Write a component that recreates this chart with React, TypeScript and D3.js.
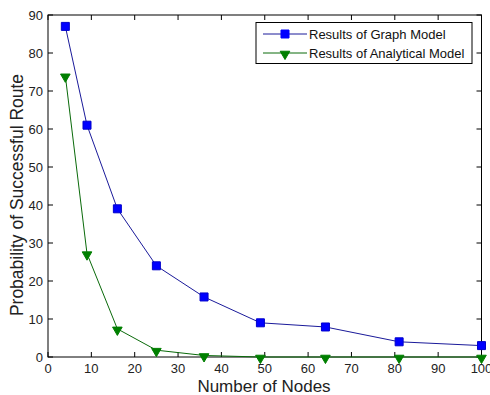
import { useEffect, useRef } from "react";
import * as d3 from "d3";

const nodes = [4, 9, 16, 25, 36, 49, 64, 81, 100];
const graphModel = [87, 61, 39, 24, 15.8, 9, 7.9, 4, 3];
const analyticalModel = [74, 27.2, 7.4, 1.8, 0.4, 0, 0, 0, 0];
const xTicks = [0, 10, 20, 30, 40, 50, 60, 70, 80, 90, 100];
const yTicks = [0, 10, 20, 30, 40, 50, 60, 70, 80, 90];
const seriesNames = ["Results of Graph Model", "Results of Analytical Model"];

function App() {
  const ref = useRef<SVGSVGElement>(null);

  useEffect(() => {
    const svg = d3.select(ref.current);
    svg.selectAll("*").remove();

    const margin = { top: 15, right: 8, bottom: 38, left: 48 };
    const width = 490;
    const height = 395;

    const x = d3.scaleLinear([0, 100], [margin.left, width - margin.right - 0.5]);
    const y = d3.scaleLinear([0, 90], [height - margin.bottom, margin.top]);

    svg.append("rect").attr("width", width).attr("height", height).attr("fill", "#fff");

    const font = "'Liberation Sans', Arial, sans-serif";
    const tickLen = 5;

    // ticks sur les quatre côtés (boîte style matlab)
    xTicks.forEach((t) => {
      [
        [y(0), y(0) - tickLen],
        [y(90), y(90) + tickLen],
      ].forEach(([a, b]) => {
        svg.append("line")
          .attr("x1", x(t)).attr("x2", x(t))
          .attr("y1", a).attr("y2", b)
          .attr("stroke", "#000");
      });
      svg.append("text")
        .attr("x", x(t))
        .attr("y", y(0) + 15.5)
        .attr("text-anchor", "middle")
        .attr("font-family", font)
        .attr("font-size", 13)
        .attr("fill", "#222")
        .text(t);
    });

    yTicks.forEach((t) => {
      [
        [x(0), x(0) + tickLen],
        [x(100), x(100) - tickLen],
      ].forEach(([a, b]) => {
        svg.append("line")
          .attr("x1", a).attr("x2", b)
          .attr("y1", y(t)).attr("y2", y(t))
          .attr("stroke", "#000");
      });
      svg.append("text")
        .attr("x", x(0) - 5)
        .attr("y", y(t) + 4.5)
        .attr("text-anchor", "end")
        .attr("font-family", font)
        .attr("font-size", 13)
        .attr("fill", "#222")
        .text(t);
    });

    svg.append("rect")
      .attr("x", x(0)).attr("y", y(90))
      .attr("width", x(100) - x(0)).attr("height", y(0) - y(90))
      .attr("fill", "none").attr("stroke", "#000");

    const line = d3.line<number>()
      .x((d, i) => x(nodes[i]))
      .y((d) => y(d));

    const square = d3.symbol(d3.symbolSquare, 64);
    const triangle = d3.symbol(d3.symbolTriangle, 40);

    // courbe modèle graphe
    svg.append("path")
      .attr("d", line(graphModel))
      .attr("fill", "none")
      .attr("stroke", "#1a1a9a")
      .attr("stroke-width", 1);
    graphModel.forEach((v, i) => {
      svg.append("path")
        .attr("d", square())
        .attr("transform", `translate(${x(nodes[i])},${y(v)})`)
        .attr("fill", "#0000ff")
        .attr("stroke", "#0000cc");
    });

    // courbe modèle analytique
    svg.append("path")
      .attr("d", line(analyticalModel))
      .attr("fill", "none")
      .attr("stroke", "#0a6a0a")
      .attr("stroke-width", 1);
    analyticalModel.forEach((v, i) => {
      svg.append("path")
        .attr("d", triangle())
        .attr("transform", `translate(${x(nodes[i])},${y(v) + 1}) rotate(180)`)
        .attr("fill", "#007f00")
        .attr("stroke", "#007f00");
    });

    // légende
    const lg = svg.append("g");
    lg.append("rect")
      .attr("x", 256).attr("y", 22.5)
      .attr("width", 216).attr("height", 41)
      .attr("fill", "#fff").attr("stroke", "#000");

    const entries = [
      { color: "#1a1a9a", fill: "#0000ff", sym: square, rot: 0 },
      { color: "#0a6a0a", fill: "#007f00", sym: triangle, rot: 180 },
    ];
    entries.forEach((e, i) => {
      const cy = 34 + i * 19;
      lg.append("line")
        .attr("x1", 263).attr("x2", 307)
        .attr("y1", cy).attr("y2", cy)
        .attr("stroke", e.color);
      lg.append("path")
        .attr("d", e.sym())
        .attr("transform", `translate(285,${cy + (e.rot ? 1 : 0)}) rotate(${e.rot})`)
        .attr("fill", e.fill)
        .attr("stroke", e.fill);
      lg.append("text")
        .attr("x", 309)
        .attr("y", cy + 4.5)
        .attr("font-family", font)
        .attr("font-size", 13)
        .attr("fill", "#111")
        .text(seriesNames[i]);
    });

    // titres des axes
    svg.append("text")
      .attr("x", 264)
      .attr("y", 392)
      .attr("text-anchor", "middle")
      .attr("font-family", font)
      .attr("font-size", 17)
      .attr("fill", "#222")
      .text("Number of Nodes");

    svg.append("text")
      .attr("transform", `translate(23,195) rotate(-90)`)
      .attr("text-anchor", "middle")
      .attr("font-family", font)
      .attr("font-size", 17.5)
      .attr("fill", "#222")
      .text("Probability of Successful Route");
  }, []);

  return (
    <svg
      ref={ref}
      width={490}
      height={395}
      style={{ position: "absolute", left: 0, top: 0, display: "block" }}
    ></svg>
  );
}

export default App;
